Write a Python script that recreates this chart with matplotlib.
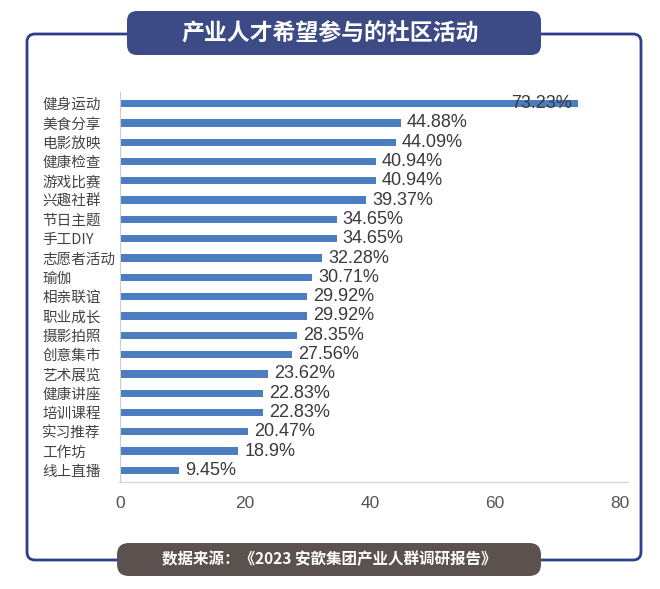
import matplotlib
matplotlib.use("Agg")
import matplotlib.pyplot as plt
from matplotlib.patches import FancyBboxPatch

plt.rcParams['font.family'] = ['Noto Sans CJK SC', 'DejaVu Sans']

categories = ["健身运动", "美食分享", "电影放映", "健康检查", "游戏比赛", "兴趣社群", "节日主题",
              "手工DIY", "志愿者活动", "瑜伽", "相亲联谊", "职业成长", "摄影拍照", "创意集市",
              "艺术展览", "健康讲座", "培训课程", "实习推荐", "工作坊", "线上直播"]
values = [73.23, 44.88, 44.09, 40.94, 40.94, 39.37, 34.65, 34.65, 32.28, 30.71, 29.92, 29.92,
          28.35, 27.56, 23.62, 22.83, 22.83, 20.47, 18.9, 9.45]
labels = ["73.23%", "44.88%", "44.09%", "40.94%", "40.94%", "39.37%", "34.65%", "34.65%",
          "32.28%", "30.71%", "29.92%", "29.92%", "28.35%", "27.56%", "23.62%", "22.83%",
          "22.83%", "20.47%", "18.9%", "9.45%"]
xticks = [0, 20, 40, 60, 80]
title = "产业人才希望参与的社区活动"
source = "数据来源：《2023 安歆集团产业人群调研报告》"

W, H = 660, 589
fig = plt.figure(figsize=(W / 100, H / 100), dpi=100)
fig.patch.set_facecolor('white')

# background decorations in pixel coordinates
bg = fig.add_axes([0, 0, 1, 1])
bg.set_xlim(0, W)
bg.set_ylim(H, 0)
bg.axis('off')

frame = FancyBboxPatch((27, 34), 614, 526, boxstyle="round,pad=0,rounding_size=8",
                       fc='none', ec='#2f3e8c', lw=2)
bg.add_patch(frame)
tbox = FancyBboxPatch((127, 11), 414, 44, boxstyle="round,pad=0,rounding_size=10",
                      fc='#3c4a85', ec='none')
bg.add_patch(tbox)
bg.text(330, 33, title, color='white', fontsize=16.5, fontweight='bold',
        ha='center', va='center')
fbox = FancyBboxPatch((117, 543), 424, 33, boxstyle="round,pad=0,rounding_size=12",
                      fc='#5b514e', ec='none')
bg.add_patch(fbox)
bg.text(329, 559.5, source, color='white', fontsize=11.2, fontweight='bold',
        ha='center', va='center')
# faint baseline under the plot
bg.plot([119, 628], [481.5, 481.5], color='#d4d4e6', lw=1)

ax = fig.add_axes([120 / W, 1 - 482 / H, 500 / W, 390 / H])
ax.set_facecolor('none')
ypos = list(range(len(categories)))
ax.barh(ypos, values, height=0.38, color='#4b7dc0')
ax.set_xlim(0, 80)
ax.set_ylim(len(categories) - 0.4, -0.6)
ax.set_xticks(xticks)
ax.set_xticklabels([str(t) for t in xticks], fontsize=12.5, color='#555555',
                   family=['Liberation Sans', 'DejaVu Sans'])
ax.set_yticks(ypos)
ax.set_yticklabels(categories, fontsize=10.5, color='#444444', ha='left')
ax.tick_params(axis='both', length=0)
ax.tick_params(axis='x', pad=10)
ax.tick_params(axis='y', pad=56)
for s in ['top', 'right', 'bottom']:
    ax.spines[s].set_visible(False)
ax.spines['left'].set_color('#cccccc')
ax.spines['left'].set_linewidth(0.8)

for i, (v, lab) in enumerate(zip(values, labels)):
    if i == 0:
        ax.text(v - 0.9, i, lab, ha='right', va='center', fontsize=13, color='#3a3a3a',
                family=['Liberation Sans', 'DejaVu Sans'])
    else:
        ax.text(v + 1.0, i, lab, ha='left', va='center', fontsize=13, color='#3a3a3a',
                family=['Liberation Sans', 'DejaVu Sans'])

fig.savefig('out.png', dpi=100)
